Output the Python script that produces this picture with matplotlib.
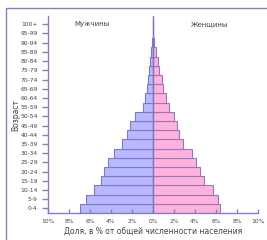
import numpy as np
import matplotlib
matplotlib.use('Agg')
import matplotlib.pyplot as plt
from matplotlib.patches import Rectangle

ages = ['0-4', '5-9', '10-14', '15-19', '20-24', '25-29', '30-34', '35-39',
        '40-44', '45-49', '50-54', '55-59', '60-64', '65-69', '70-74',
        '75-79', '80-84', '85-89', '90-94', '95-99', '100+']
men = [7.0, 6.4, 5.6, 5.0, 4.7, 4.3, 3.7, 3.0, 2.5, 2.2, 1.75, 1.0, 0.8,
       0.6, 0.5, 0.4, 0.27, 0.15, 0.05, 0.02, 0.01]
women = [6.4, 6.2, 5.7, 4.9, 4.5, 4.1, 3.7, 2.9, 2.5, 2.3, 2.0, 1.5, 1.2,
         0.95, 0.85, 0.6, 0.45, 0.25, 0.1, 0.04, 0.01]
xticks = [-10, -8, -6, -4, -2, 0, 2, 4, 6, 8, 10]

line_col = '#8080c8'
text_col = '#444444'

fig = plt.figure(figsize=(2.67, 2.4), dpi=100)
ax = fig.add_axes([48 / 267, 1 - 213 / 240, 210 / 267, 197 / 240])

y = np.arange(len(ages))
ax.barh(y, -np.array(men), height=1.0, color='#b9b9ff', edgecolor='#8078c0', linewidth=0.8)
ax.barh(y, women, height=1.0, color='#ffb3dc', edgecolor='#9478bc', linewidth=0.8)
ax.axvline(0, color='#7f74c0', linewidth=1.0)

ax.set_xlim(-10, 10)
ax.set_ylim(-0.5, 20.9)
ax.set_xticks(xticks)
ax.set_xticklabels([f'{abs(v)}%' for v in xticks])
ax.set_yticks(y)
ax.set_yticklabels(ages)

for side in ['top', 'right']:
    ax.spines[side].set_visible(False)
for side in ['left', 'bottom']:
    ax.spines[side].set_color(line_col)
    ax.spines[side].set_linewidth(1.0)
ax.tick_params(axis='y', direction='out', length=4.5, width=1.0, color=line_col,
               labelsize=4.3, labelcolor=text_col, pad=3)
ax.tick_params(axis='x', direction='in', length=3, width=1.0, color=line_col,
               labelsize=4.3, labelcolor=text_col, pad=4)

ax.text(-5.8, 20.0, 'Мужчины', fontsize=5, color=text_col, ha='center', va='center')
ax.text(5.4, 20.0, 'Женщины', fontsize=5, color=text_col, ha='center', va='center')
ax.set_xlabel('Доля, в % от общей численности населения', fontsize=5.5,
              color=text_col, labelpad=2)
fig.text(16 / 267, 1 - 115 / 240, 'Возраст', rotation=90, fontsize=5.5,
         color=text_col, ha='center', va='center')

# frame, clipped at the right and bottom
fig.add_artist(Rectangle((6 / 267, -0.1), 1.2, 1 - 8 / 240 + 0.1,
                         transform=fig.transFigure, fill=False,
                         edgecolor=line_col, linewidth=1.0))

fig.savefig('out.png', dpi=100)
